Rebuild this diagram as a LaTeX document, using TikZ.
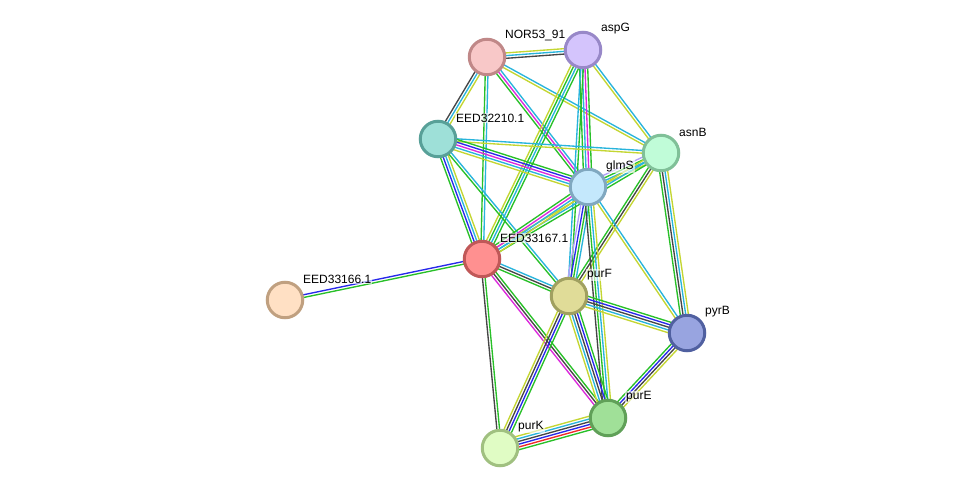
\documentclass[tikz,border=0pt]{standalone}
\usepackage{fontspec}
\setmainfont{Liberation Sans}
\usetikzlibrary{calc,backgrounds}
\definecolor{eg}{RGB}{40,192,40}
\definecolor{eb}{RGB}{40,40,235}
\definecolor{ek}{RGB}{70,70,70}
\definecolor{ec}{RGB}{40,180,220}
\definecolor{em}{RGB}{220,40,220}
\definecolor{ey}{RGB}{196,214,50}
\definecolor{er}{RGB}{240,40,40}
\definecolor{eh}{RGB}{176,160,248}
\tikzset{
  prot/.style={circle, minimum size=35.5pt, inner sep=0pt, line width=3pt},
  lab/.style={anchor=west, font=\fontsize{12}{14}\selectfont, inner sep=1pt, fill=white, fill opacity=0.6, text opacity=1},
  edgeline/.style={line width=1.35pt}
}
\newcommand\bundle[3]{%
  \gdef\bn{0}%
  \foreach \c in {#3}{\pgfmathtruncatemacro\bnn{\bn+1}\global\let\bn\bnn}%
  \foreach \c [count=\i] in {#3}{%
    \pgfmathsetmacro\off{(\i-(\bn+1)/2)*2.7}%
    \draw[edgeline,draw=\c] ($(#1)!\off pt!90:(#2)$) -- ($(#2)!\off pt!-90:(#1)$);
  }%
}
\begin{document}
\begin{tikzpicture}[x=1pt,y=-1pt]
\useasboundingbox (0,0) rectangle (976,494);
% nodes
\node[prot, fill={rgb,255:red,248;green,200;blue,200}, draw={rgb,255:red,192;green,136;blue,136}] (nor) at (487,57) {};
\node[prot, fill={rgb,255:red,212;green,196;blue,252}, draw={rgb,255:red,152;green,136;blue,200}] (aspg) at (583,50) {};
\node[prot, fill={rgb,255:red,158;green,224;blue,216}, draw={rgb,255:red,88;green,160;blue,152}] (e210) at (438,139) {};
\node[prot, fill={rgb,255:red,192;green,252;blue,216}, draw={rgb,255:red,128;green,192;blue,152}] (asnb) at (661,153) {};
\node[prot, fill={rgb,255:red,196;green,232;blue,252}, draw={rgb,255:red,128;green,168;blue,192}] (glms) at (588,187) {};
\node[prot, fill={rgb,255:red,255;green,144;blue,144}, draw={rgb,255:red,192;green,88;blue,88}] (e167) at (482,259) {};
\node[prot, fill={rgb,255:red,255;green,224;blue,196}, draw={rgb,255:red,192;green,160;blue,128}] (e166) at (285,300) {};
\node[prot, fill={rgb,255:red,224;green,220;blue,152}, draw={rgb,255:red,160;green,160;blue,96}] (purf) at (569,296) {};
\node[prot, fill={rgb,255:red,152;green,164;blue,224}, draw={rgb,255:red,80;green,96;blue,160}] (pyrb) at (687,333) {};
\node[prot, fill={rgb,255:red,160;green,224;blue,152}, draw={rgb,255:red,96;green,160;blue,88}] (pure) at (608,418) {};
\node[prot, fill={rgb,255:red,224;green,252;blue,196}, draw={rgb,255:red,160;green,192;blue,128}] (purk) at (500,448) {};
% labels
\node[lab] (lnor) at ($(nor)+(17,-21)$) {NOR53\_91};
\node[lab] (laspg) at ($(aspg)+(17,-21)$) {aspG};
\node[lab] (le210) at ($(e210)+(17,-21)$) {EED32210.1};
\node[lab] (lasnb) at ($(asnb)+(17,-21)$) {asnB};
\node[lab] (lglms) at ($(glms)+(17,-21)$) {glmS};
\node[lab] (le167) at ($(e167)+(17,-21)$) {EED33167.1};
\node[lab] (le166) at ($(e166)+(17,-21)$) {EED33166.1};
\node[lab] (lpurf) at ($(purf)+(17,-21)$) {purF};
\node[lab] (lpyrb) at ($(pyrb)+(17,-21)$) {pyrB};
\node[lab] (lpure) at ($(pure)+(17,-21)$) {purE};
\node[lab] (lpurk) at ($(purk)+(17,-21)$) {purK};
% edges
\begin{pgfonlayer}{background}
\fill[white] (0,0) rectangle (976,494);
\bundle{nor}{aspg}{ek,ec,ey}
\bundle{nor}{e210}{ek,ec,ey}
\bundle{nor}{e167}{eg,ec}
\bundle{nor}{glms}{eg,em,ec}
\bundle{nor}{asnb}{ey,ec}
\bundle{aspg}{e167}{ey,eg,ec,eg}
\bundle{aspg}{glms}{eg,ec,em,eg}
\bundle{aspg}{purf}{ec,eg}
\bundle{aspg}{asnb}{ey,ec}
\bundle{e210}{asnb}{ey,ec}
\bundle{e210}{glms}{ey,ec,em,eb,eg}
\bundle{e210}{e167}{eg,eb,ec,ey}
\bundle{e210}{purf}{eg,ec}
\bundle{asnb}{glms}{eh,eg,ec,ey}
\bundle{asnb}{purf}{eg,ek,ey}
\bundle{asnb}{pyrb}{eg,ek,ec,ey}
\bundle{asnb}{e167}{ey,ec,eg}
\bundle{glms}{purf}{eh,eb,eg,ec}
\bundle{glms}{pure}{ek,eg,ec,ey}
\bundle{glms}{pyrb}{ey,ec}
\bundle{glms}{e167}{eg,em,ec,ey}
\bundle{e167}{e166}{eb,eg}
\bundle{e167}{purf}{eg,ek,ec}
\bundle{e167}{pure}{em,ek,eg}
\bundle{e167}{purk}{ek,eg}
\bundle{purf}{pyrb}{ey,ec,ek,eb,eg}
\bundle{purf}{pure}{ey,ec,ek,eb,eg}
\bundle{purf}{purk}{ey,ek,eb,eg}
\bundle{pyrb}{pure}{eg,eb,ek,ey}
\bundle{purk}{pure}{eg,er,eb,ek,ec,ey}
\end{pgfonlayer}
\end{tikzpicture}
\end{document}
